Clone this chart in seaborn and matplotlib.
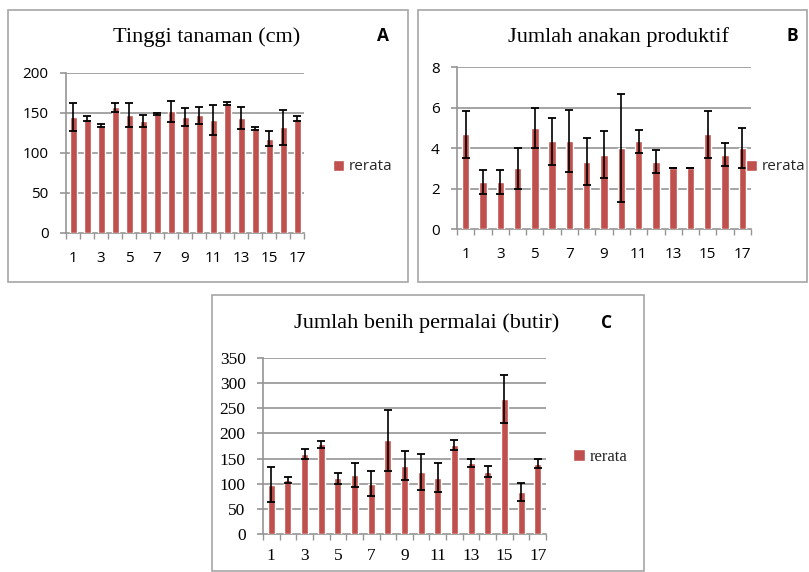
import matplotlib
matplotlib.use("Agg")
import matplotlib.pyplot as plt
from matplotlib.patches import Rectangle
import seaborn as sns
import pandas as pd

categories = [str(i) for i in range(1, 18)]

tinggi_mean = [145, 143, 134, 157, 147, 140, 149, 152, 145, 147, 141, 162, 144, 131, 118, 132, 143]
tinggi_err = [17, 3, 2, 6, 15, 8, 1.5, 13, 11, 11, 19, 2, 13.5, 2, 9, 21.5, 3]

anakan_mean = [4.67, 2.33, 2.33, 3.0, 5.0, 4.33, 4.33, 3.33, 3.67, 4.0, 4.33, 3.33, 3.0, 3.0, 4.67, 3.67, 4.0]
anakan_err = [1.15, 0.58, 0.58, 1.0, 1.0, 1.15, 1.53, 1.15, 1.15, 2.65, 0.58, 0.58, 0.0, 0.0, 1.15, 0.58, 1.0]

benih_mean = [98, 107, 160, 178, 111, 117, 100, 186, 136, 124, 112, 177, 142, 124, 269, 84, 140]
benih_err = [34.5, 6, 10, 7.5, 11, 24, 25, 60, 29, 36, 29, 10, 8, 10.6, 48, 17.5, 9]

titles = ["Tinggi tanaman (cm)", "Jumlah anakan produktif", "Jumlah benih permalai (butir)"]
letters = ["A", "B", "C"]
legend_label = "rerata"

BAR = "#C0504D"
GRID = "#959595"
W, H = 809, 572

sns.set_theme(style="white")
fig = plt.figure(figsize=(W / 100, H / 100), dpi=100)


def fx(px):
    return px / W


def fy(py):
    return 1 - py / H


# panel borders
for (x0, y0, x1, y1) in [(8, 10, 408, 282), (418, 10, 807, 282), (212, 295, 644, 571)]:
    fig.add_artist(Rectangle((fx(x0), fy(y1)), fx(x1 - x0), (y1 - y0) / H,
                             transform=fig.transFigure, fill=False,
                             edgecolor="#A6A6A6", linewidth=1.2))

panels = [
    dict(mean=tinggi_mean, err=tinggi_err, box=(66, 73, 304, 233), ymax=200, ystep=50, bw=0.5,
         title_xy=(207, 37), letter_xy=(383, 36), leg_xy=(333, 167), serif=False),
    dict(mean=anakan_mean, err=anakan_err, box=(457, 67, 751, 229), ymax=8, ystep=2, bw=0.43,
         title_xy=(618, 37), letter_xy=(792, 36), leg_xy=(746, 167), serif=False),
    dict(mean=benih_mean, err=benih_err, box=(263, 358, 546, 534), ymax=350, ystep=50, bw=0.42,
         title_xy=(427, 323), letter_xy=(607, 323), leg_xy=(573, 457), serif=True),
]

for i, p in enumerate(panels):
    l, t, r, b = p["box"]
    ax = fig.add_axes([fx(l), fy(b), fx(r - l), (b - t) / H])
    df = pd.DataFrame({"perlakuan": categories, "rerata": p["mean"]})
    sns.barplot(data=df, x="perlakuan", y="rerata", color=BAR, saturation=1,
                width=p["bw"], errorbar=None, ax=ax, label=legend_label, zorder=3)
    ax.errorbar(x=list(range(len(categories))), y=p["mean"], yerr=p["err"], fmt="none",
                ecolor="black", elinewidth=1.2, capsize=3, capthick=1.3, zorder=4)
    ax.set_xlim(-0.5, len(categories) - 0.5)
    ax.set_ylim(0, p["ymax"])
    yt = list(range(0, p["ymax"] + 1, p["ystep"]))
    ax.set_yticks(yt)
    ax.set_xticks(range(len(categories)))
    ax.set_xticklabels([c if k % 2 == 0 else "" for k, c in enumerate(categories)])
    ax.set_xticks([k - 0.5 for k in range(len(categories) + 1)], minor=True)
    ax.set_xlabel("")
    ax.set_ylabel("")
    for yv in yt[1:]:
        ax.axhline(yv, color=GRID, linewidth=1.2, zorder=1)
    for s in ["top", "right"]:
        ax.spines[s].set_visible(False)
    for s in ["left", "bottom"]:
        ax.spines[s].set_color(GRID)
        ax.spines[s].set_linewidth(1.2)
    if p["serif"]:
        fam, fs, lfs, xpad = "Liberation Serif", 12.5, 12, 10
    else:
        fam, fs, lfs, xpad = "Open Sans", 11, 11, 13
    ax.tick_params(axis="x", which="major", length=0, pad=xpad)
    ax.tick_params(axis="x", which="minor", length=4.5, width=1, color=GRID, direction="out", bottom=True)
    ax.tick_params(axis="y", which="major", length=4.5, width=1.2, color=GRID, direction="out", left=True, pad=8)
    for lab in ax.get_xticklabels() + ax.get_yticklabels():
        lab.set_fontfamily(fam)
        lab.set_fontsize(fs)
        lab.set_color("black")
    ax.legend(loc="center left", bbox_to_anchor=(fx(p["leg_xy"][0]), fy(p["leg_xy"][1])),
              bbox_transform=fig.transFigure, frameon=False, handlelength=0.7,
              handleheight=0.7, handletextpad=0.3, borderaxespad=0, borderpad=0,
              prop={"family": fam, "size": lfs})
    fig.text(fx(p["title_xy"][0]), fy(p["title_xy"][1]), titles[i], ha="center", va="center",
             fontfamily="Liberation Serif", fontsize=16, color="black")
    fig.text(fx(p["letter_xy"][0]), fy(p["letter_xy"][1]), letters[i], ha="center", va="center",
             fontfamily="Open Sans", fontweight="bold", fontsize=12.5, color="black")

fig.savefig("out.png", dpi=100, facecolor="white")
